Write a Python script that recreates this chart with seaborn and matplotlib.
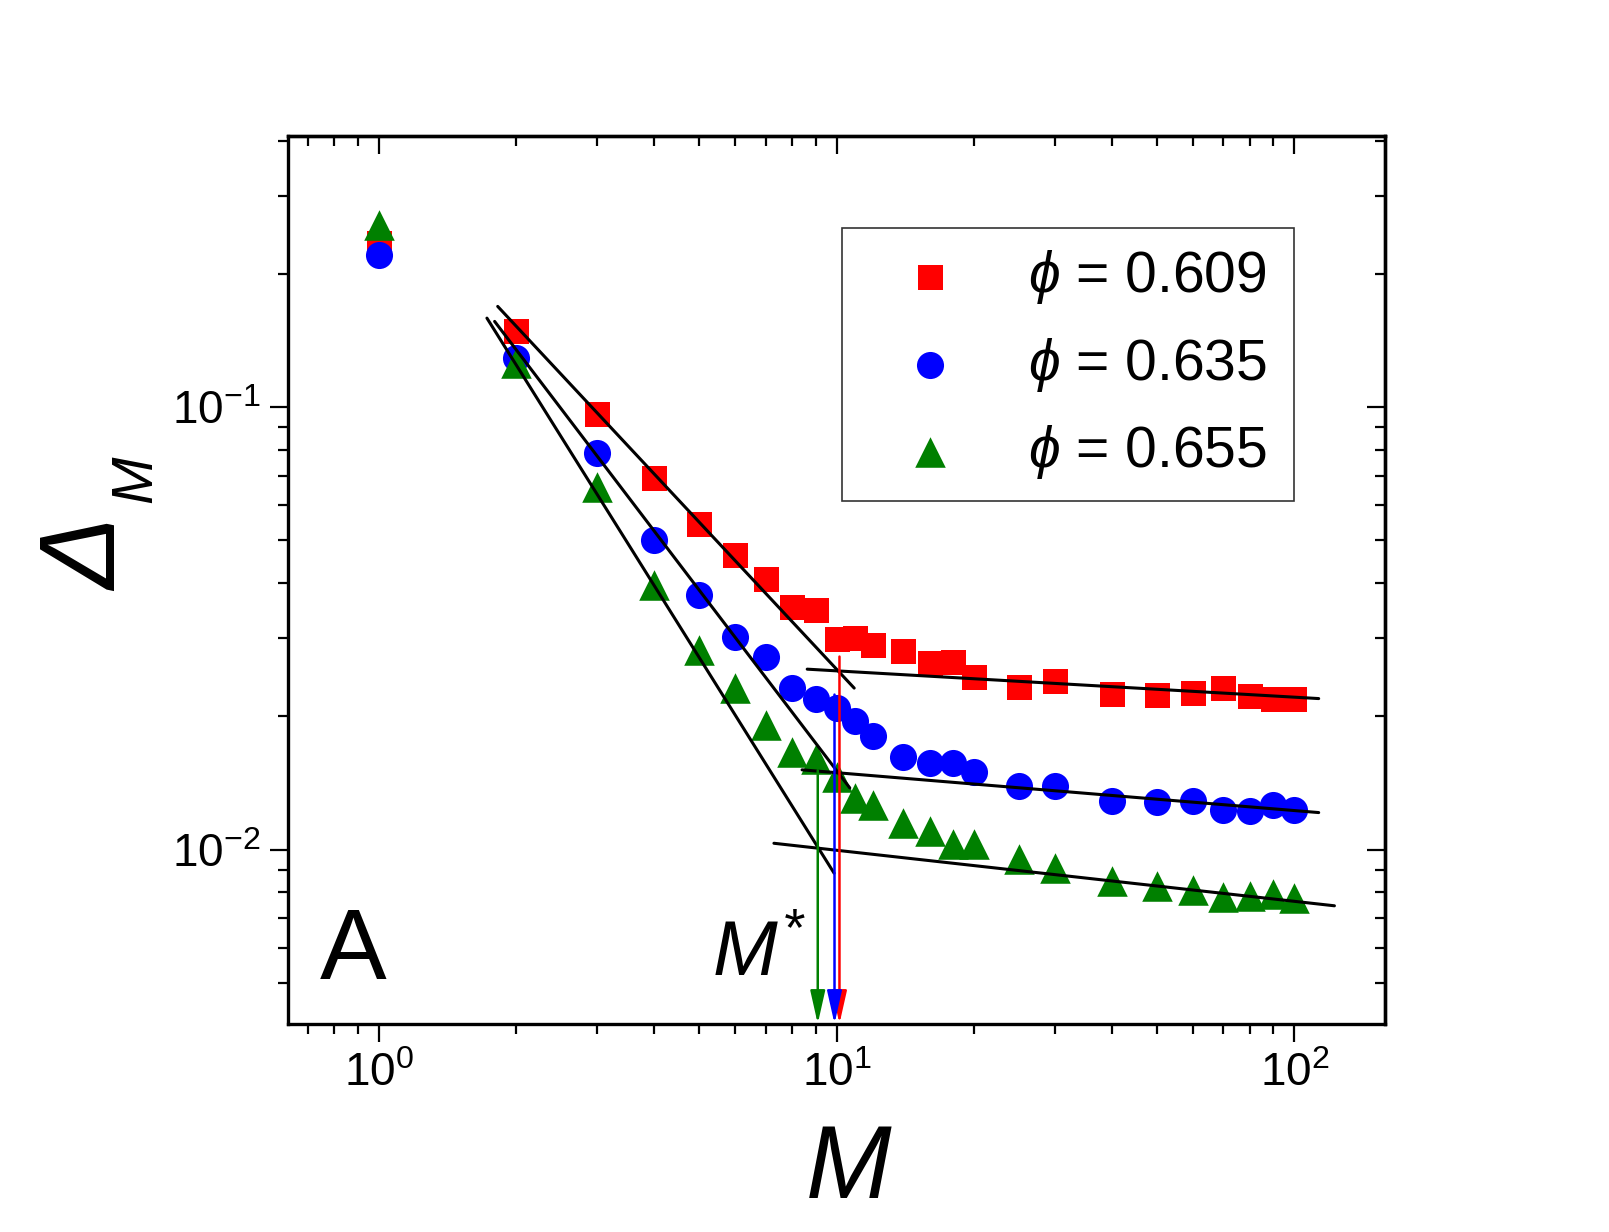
import numpy as np
import pandas as pd
import matplotlib
matplotlib.use("Agg")
import matplotlib.pyplot as plt
import seaborn as sns
from matplotlib.ticker import LogLocator, NullFormatter

# ---- data ----
M = [1, 2, 3, 4, 5, 6, 7, 8, 9, 10, 11, 12, 14, 16, 18, 20, 25, 30, 40, 50, 60, 70, 80, 90, 100]

delta_0609 = [0.235, 0.149, 0.0966, 0.0692, 0.0545, 0.0463, 0.0409, 0.0353, 0.0348, 0.0299,
              0.0301, 0.0290, 0.0281, 0.0264, 0.0266, 0.0246, 0.0233, 0.0240, 0.0225, 0.0223,
              0.0226, 0.0232, 0.0222, 0.0219, 0.0219]
delta_0635 = [0.221, 0.129, 0.0787, 0.0500, 0.0377, 0.0303, 0.0273, 0.0232, 0.0219, 0.0209,
              0.0195, 0.0181, 0.0162, 0.0157, 0.0157, 0.0150, 0.0139, 0.0139, 0.0129, 0.0128,
              0.0129, 0.0123, 0.0122, 0.0126, 0.0123]
delta_0655 = [0.2576, 0.1256, 0.0659, 0.0397, 0.0283, 0.0232, 0.0191, 0.0166, 0.0160, 0.0146,
              0.0131, 0.0126, 0.0115, 0.0110, 0.0103, 0.0103, 0.00951, 0.00908, 0.00850, 0.00828,
              0.00811, 0.00782, 0.00784, 0.00793, 0.00778]

phi_labels = ["0.609", "0.635", "0.655"]

# power-law fit segments (M start, M end) / (Delta start, Delta end)
fit_steep_M = [[1.820, 10.93], [1.792, 10.69], [1.724, 9.88]]
fit_steep_D = [[0.169, 0.02317], [0.1563, 0.01378], [0.1590, 0.00884]]
fit_flat_M = [[8.63, 113.0], [8.41, 113.0], [7.30, 122.3]]
fit_flat_D = [[0.02557, 0.02194], [0.01514, 0.01212], [0.01033, 0.00746]]

# crossover M* arrows (M*, Delta where the arrow starts)
mstar = [10.15, 9.9, 9.1]
mstar_top = [0.0273, 0.0224, 0.0151]

df = pd.DataFrame({
    "M": M * 3,
    "delta": delta_0609 + delta_0635 + delta_0655,
    "phi": [phi_labels[0]] * len(M) + [phi_labels[1]] * len(M) + [phi_labels[2]] * len(M),
})

colors = ["#ff0000", "#0000ff", "#008000"]
markers = ["s", "o", "^"]
msizes = [18, 19.5, 22]

sns.set_style("ticks")
plt.rcParams["font.family"] = ["Liberation Sans", "DejaVu Sans"]
plt.rcParams["mathtext.fontset"] = "custom"
plt.rcParams["mathtext.rm"] = "Liberation Sans:italic"
plt.rcParams["mathtext.it"] = "Liberation Sans:italic"
plt.rcParams["mathtext.bf"] = "Liberation Sans:bold"
plt.rcParams["axes.unicode_minus"] = False
for key in ["text.color", "axes.labelcolor", "xtick.color", "ytick.color", "axes.edgecolor"]:
    plt.rcParams[key] = "black"

fig = plt.figure(figsize=(16.09, 12.32), dpi=100)
ax = fig.add_axes([0.179, 0.169, 0.682, 0.7204])

for i, lab in enumerate(phi_labels):
    sub = df[df["phi"] == lab]
    sns.scatterplot(data=sub, x="M", y="delta", marker=markers[i], s=msizes[i] ** 2,
                    color=colors[i], linewidth=0, ax=ax, zorder=2,
                    label=r"$\phi$" + " = " + lab)

# fit lines on top of the symbols
for i in range(3):
    ax.plot(fit_steep_M[i], fit_steep_D[i], color="black", lw=2.2, zorder=3)
    ax.plot(fit_flat_M[i], fit_flat_D[i], color="black", lw=2.2, zorder=3)

ax.set_xscale("log")
ax.set_yscale("log")
ax.set_xlim(0.634, 158)
ax.set_ylim(0.004036, 0.4098)

# arrows pointing at M*
ybot = ax.get_ylim()[0]
for i in range(3):
    ax.annotate("", xy=(mstar[i], ybot), xytext=(mstar[i], mstar_top[i]),
                arrowprops=dict(arrowstyle="-|>,head_length=2.0,head_width=0.45",
                                mutation_scale=10, color=colors[i], lw=1.8,
                                shrinkA=0, shrinkB=0),
                zorder=4)

# axes styling
for s in ax.spines.values():
    s.set_linewidth(2.4)
    s.set_color("black")
ax.tick_params(which="both", direction="out", top=False, right=False, width=1.6,
               labelsize=33, color="black", pad=7)
ax.tick_params(which="major", length=13)
ax.tick_params(which="minor", length=7)
ax.xaxis.set_minor_formatter(NullFormatter())
ax.yaxis.set_minor_formatter(NullFormatter())
ax.yaxis.set_major_locator(LogLocator(base=10))
ax.yaxis.set_minor_locator(LogLocator(base=10, subs=np.arange(2, 10)))

top = ax.secondary_xaxis("top")
top.tick_params(which="both", direction="in", labeltop=False, width=1.6)
top.tick_params(which="major", length=13)
top.tick_params(which="minor", length=7)
top.spines["top"].set_linewidth(2.4)
right = ax.secondary_yaxis("right")
right.tick_params(which="both", direction="in", labelright=False, width=1.6)
right.tick_params(which="major", length=13)
right.tick_params(which="minor", length=7)
right.spines["right"].set_linewidth(2.4)

ax.set_xlabel("M", fontsize=74, fontstyle="italic")
ax.xaxis.set_label_coords(0.511, -0.112)
ax.set_ylabel("")

# y label: italic Delta with subscript M
fig.text(0.0727, 0.5203, "\u0394", fontsize=78, fontstyle="italic", rotation=90,
         rotation_mode="anchor", ha="left", va="baseline")
fig.text(0.0938, 0.5917, "M", fontsize=41, fontstyle="italic", rotation=90,
         rotation_mode="anchor", ha="left", va="baseline")

ax.text(0.0597, 0.0507, "A", transform=ax.transAxes, fontsize=72,
        ha="center", va="baseline")
ax.text(0.3865, 0.0533, r"$M^{*}$", transform=ax.transAxes, fontsize=56,
        ha="left", va="baseline")

leg = ax.legend(loc="upper left", bbox_to_anchor=(0.5233, 0.6, 0.2811, 0.2149),
                bbox_transform=fig.transFigure, borderaxespad=0, mode="expand",
                fontsize=41, frameon=True, fancybox=False, edgecolor="black",
                handlelength=2.4, handletextpad=0.52, borderpad=0.35, labelspacing=0.52)
leg.get_frame().set_linewidth(1.2)

fig.savefig("out.png", dpi=100)
